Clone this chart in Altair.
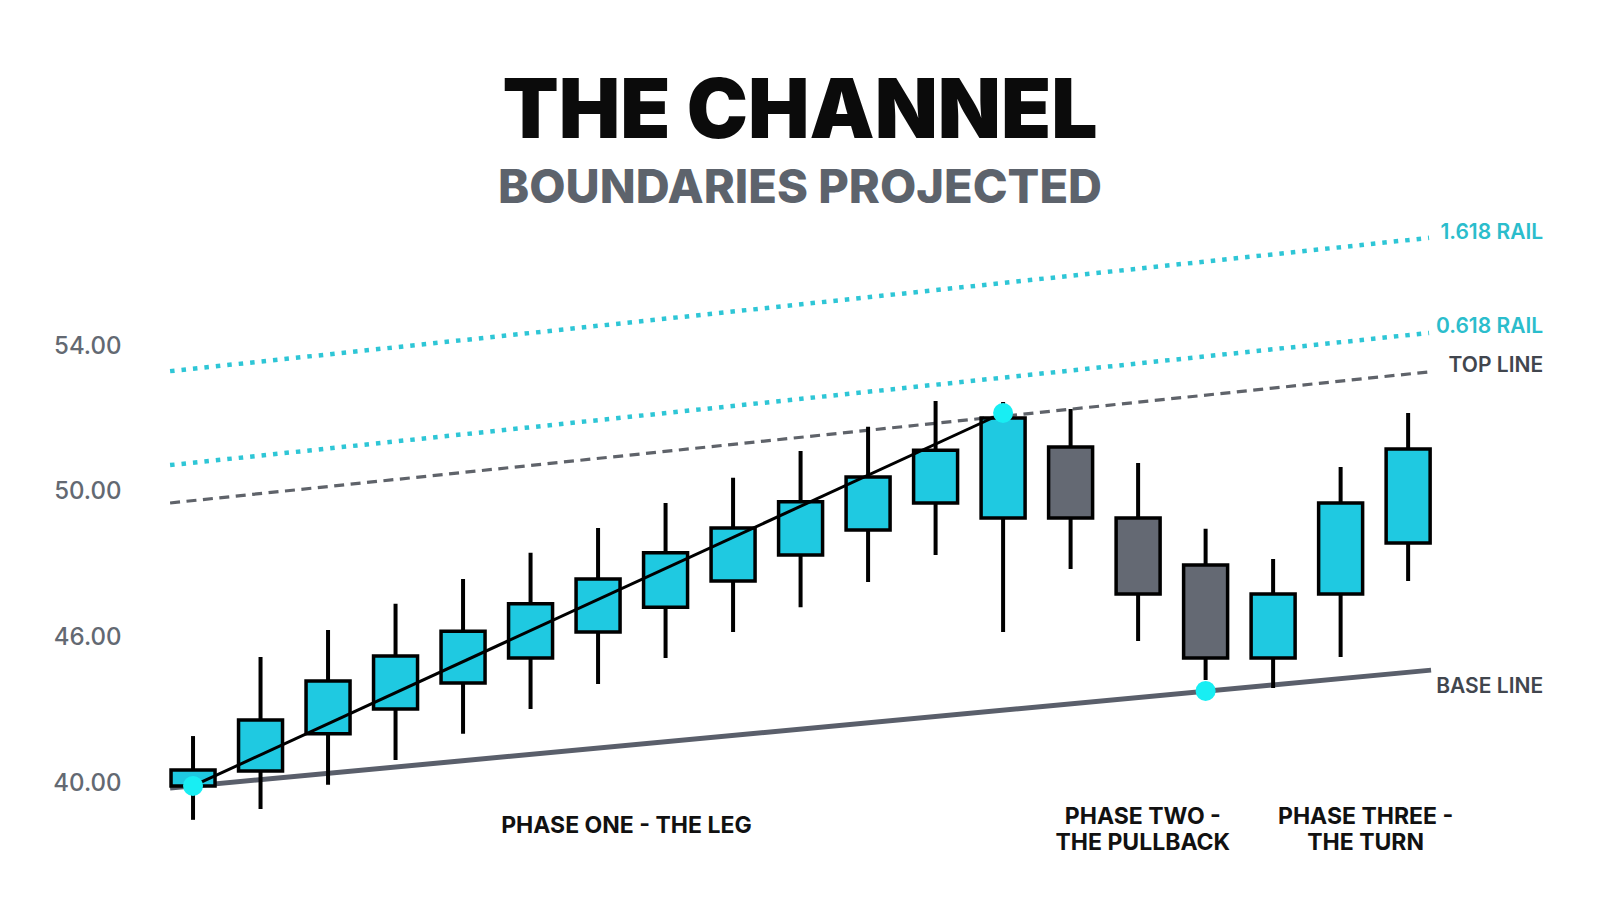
import altair as alt
import pandas as pd

# ---------------- data ----------------
IDX = list(range(19))
OPEN = [41.92, 42.33, 43.35, 44.03, 44.75, 45.43, 46.15, 46.83, 47.55, 48.26,
        48.95, 49.69, 49.28, 51.23, 49.28, 47.99, 45.43, 47.19, 48.59]
CLOSE = [42.36, 43.73, 44.80, 45.49, 46.17, 46.92, 47.60, 48.32, 49.00, 49.72,
         50.40, 51.14, 52.02, 49.28, 47.19, 45.43, 47.19, 49.69, 51.17]
HIGH = [43.29, 45.46, 46.20, 46.92, 47.60, 48.32, 49.00, 49.69, 50.38, 51.12,
        51.78, 52.49, 52.46, 52.27, 50.79, 48.98, 48.15, 50.68, 52.16]
LOW = [40.99, 41.29, 41.95, 42.63, 43.35, 44.03, 44.72, 45.43, 46.15, 46.83,
       47.52, 48.26, 46.15, 47.88, 45.90, 44.83, 44.61, 45.46, 47.55]

LINE_X = [-0.34, 18.31]
RAIL_1618_Y = [53.31, 56.97]
RAIL_0618_Y = [50.73, 54.36]
TOP_LINE_Y = [49.69, 53.29]
BASE_LINE_X = [-0.34, 18.34]
BASE_LINE_Y = [41.86, 45.10]
TREND_X = [0, 12]
TREND_Y = [41.92, 52.16]
PIVOT_X = [0, 12, 15]
PIVOT_Y = [41.92, 52.16, 44.53]

LINE_LABELS = ["1.618 RAIL", "0.618 RAIL", "TOP LINE", "BASE LINE"]
LINE_LABEL_X = [20.0, 20.0, 20.0, 20.0]
LINE_LABEL_Y = [57.10, 54.52, 53.45, 44.64]
LINE_LABEL_KIND = ["rail", "rail", "gray", "gray"]

PHASE_TEXT = ["PHASE ONE - THE LEG", "PHASE TWO -", "THE PULLBACK", "PHASE THREE -", "THE TURN"]
PHASE_X = [6.42, 14.07, 14.07, 17.37, 17.37]
PHASE_Y = [40.81, 41.07, 40.35, 41.07, 40.35]

TICK_VALUES = [42, 46, 50, 54]
TICK_LABELS = ["40.00", "46.00", "50.00", "54.00"]

# ---------------- styling ----------------
FONT = "Inter, Montserrat, sans-serif"
CYAN_BODY = "#1FC9E1"
GRAY_BODY = "#646973"
RAIL_CYAN = "#2EC6D6"
PIVOT_CYAN = "#18EEF3"

XS = alt.Scale(domain=[-0.5634, 20.472], nice=False, zero=False)
YS = alt.Scale(domain=[39.612, 57.597], nice=False, zero=False)

expr = "''"
for v, t in reversed(list(zip(TICK_VALUES, TICK_LABELS))):
    expr = f"datum.value == {v} ? '{t}' : ({expr})"

YAXIS = alt.Axis(values=TICK_VALUES, labelExpr=expr, title=None, grid=False,
                 domain=False, ticks=False, labelFont=FONT, labelFontSize=24,
                 labelFontWeight=500, labelColor="#636972", labelPadding=29)


def X(f="x"):
    return alt.X(f + ":Q", scale=XS, axis=None)


def Y(f="y"):
    return alt.Y(f + ":Q", scale=YS, axis=YAXIS)


candles = pd.DataFrame({"x": IDX, "open": OPEN, "close": CLOSE, "high": HIGH, "low": LOW})
candles["dir"] = ["up" if c >= o else "down" for o, c in zip(OPEN, CLOSE)]


def line_df(xs, ys):
    return pd.DataFrame({"x": xs, "y": ys})


rail1 = alt.Chart(line_df(LINE_X, RAIL_1618_Y)).mark_line(
    color=RAIL_CYAN, strokeWidth=4.5, strokeDash=[4.5, 7], strokeCap="butt"
).encode(x=X(), y=Y())
rail0 = alt.Chart(line_df(LINE_X, RAIL_0618_Y)).mark_line(
    color=RAIL_CYAN, strokeWidth=4.5, strokeDash=[4.5, 7], strokeCap="butt"
).encode(x=X(), y=Y())
topl = alt.Chart(line_df(LINE_X, TOP_LINE_Y)).mark_line(
    color="#5f636a", strokeWidth=3.2, strokeDash=[10, 6.5], strokeCap="butt"
).encode(x=X(), y=Y())
basel = alt.Chart(line_df(BASE_LINE_X, BASE_LINE_Y)).mark_line(
    color="#5A5F6B", strokeWidth=5
).encode(x=X(), y=Y())

wicks = alt.Chart(candles).mark_rule(color="black", strokeWidth=4).encode(
    x=X(), y=Y("low"), y2="high:Q"
)
bodies = alt.Chart(candles).mark_bar(size=44, stroke="black", strokeWidth=3.5).encode(
    x=X(), y=Y("open"), y2="close:Q",
    color=alt.Color("dir:N", scale=alt.Scale(domain=["up", "down"], range=[CYAN_BODY, GRAY_BODY]),
                    legend=None),
)

trend = alt.Chart(line_df(TREND_X, TREND_Y)).mark_line(color="black", strokeWidth=3).encode(
    x=X(), y=Y()
)
pivots = alt.Chart(line_df(PIVOT_X, PIVOT_Y)).mark_point(
    filled=True, size=400, color=PIVOT_CYAN, opacity=1
).encode(x=X(), y=Y())

lbl_df = pd.DataFrame({"x": LINE_LABEL_X, "y": LINE_LABEL_Y, "t": LINE_LABELS, "k": LINE_LABEL_KIND})
line_labels = alt.Chart(lbl_df).mark_text(
    align="right", baseline="middle", font=FONT, fontSize=21, fontWeight=600
).encode(
    x=X(), y=Y(), text="t:N",
    color=alt.Color("k:N", scale=alt.Scale(domain=["rail", "gray"], range=["#2BBDCC", "#41464e"]),
                    legend=None),
)

ph_df = pd.DataFrame({"x": PHASE_X, "y": PHASE_Y, "t": PHASE_TEXT})
phases = alt.Chart(ph_df).mark_text(
    align="center", baseline="middle", font=FONT, fontSize=23, fontWeight=700, color="#111111"
).encode(x=X(), y=Y(), text="t:N")

chart = alt.layer(
    rail1, rail0, topl, basel, wicks, bodies, trend, pivots, line_labels, phases
).resolve_scale(color="independent").properties(
    width=1430, height=655,
    autosize=alt.AutoSizeParams(type="none"),
    padding={"left": 142, "top": 207, "right": 0, "bottom": 0},
    title=alt.TitleParams(
        text="THE CHANNEL", subtitle="BOUNDARIES PROJECTED",
        font=FONT, fontSize=82, fontWeight=900, color="#0b0b0b",
        subtitleFont=FONT, subtitleFontSize=47, subtitleFontWeight=800,
        subtitleColor="#5d636c", subtitlePadding=11,
        anchor="middle", frame="group", dx=-65, offset=2,
    ),
).configure_view(stroke=None)

chart.save("out.html", embed_options={"renderer": "svg", "actions": False})
